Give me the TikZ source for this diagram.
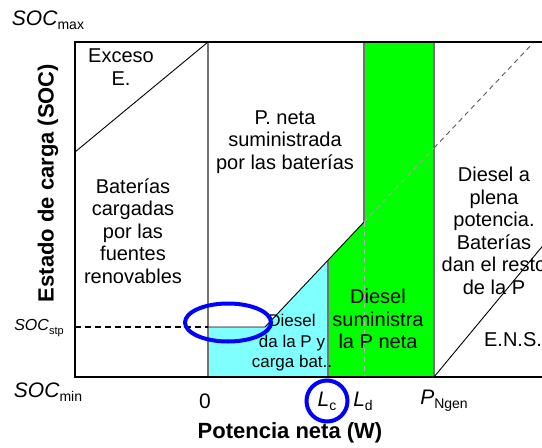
\documentclass[tikz,border=0pt]{standalone}
\usepackage{fontspec}
\setmainfont{Liberation Sans}
\usepackage{xcolor}
\usepackage{tikz}
\definecolor{chargecyan}{RGB}{128,255,255}
\definecolor{dieselgreen}{RGB}{0,255,0}
\newcommand{\fs}[2]{\fontsize{#1}{#2}\selectfont}
\newcommand{\lo}[2]{\raisebox{-0.2em}{\fs{#1}{#1}#2}}

\begin{document}
\begin{tikzpicture}[x=1pt,y=-1pt,
    region/.style={align=center,font=\fs{20}{22.5}},
    smallregion/.style={align=center,font=\fs{17}{20.5}},
    axislabel/.style={font=\bfseries\fs{22}{22}},
    level/.style={font=\fs{21}{21}},
    divider/.style={black!55,line width=1.2pt},
    slope/.style={black,line width=0.9pt},
    ring/.style={blue,line width=4pt}]
    \useasboundingbox (0,0) rectangle (542,448);
    \fill[chargecyan] (208,377) -- (208,327) -- (265,327) -- (328,261) -- (328,377) -- cycle;
    \fill[dieselgreen] (328,377) -- (328,261) -- (364,222) -- (364,42) -- (434,42) -- (434,377) -- cycle;
    \draw[divider] (208,42) -- (208,377);
    \draw[divider] (328,261) -- (328,377);
    \draw[divider] (364,42) -- (364,222);
    \draw[divider] (434,42) -- (434,377);
    \draw[slope] (75,152) -- (208,42);
    \draw[slope] (208,327) -- (265,327) -- (364,222);
    \draw[slope,black!35,dash pattern=on 5pt off 4pt] (364,222) -- (434,148);
    \draw[slope,black!65,dash pattern=on 5pt off 4pt] (434,148) -- (534,42);
    \draw[slope,black!30,dash pattern=on 5pt off 4pt] (364,222) -- (364,377);
    \draw[slope] (434,377) -- (560,225);
    \draw[line width=1.2pt,dash pattern=on 6pt off 4pt] (75,327) -- (208,327);
    \draw[line width=2pt] (548,42) -- (75,42) -- (75,377) -- (548,377);
    \node[level] (socmax) at (48,20) {\textit{SOC}\lo{14}{max}};
    \node[level] (socmin) at (48,392) {\textit{SOC}\lo{14}{min}};
    \node[font=\fs{16}{16}] (socstp) at (39,328) {\textit{SOC}\lo{11}{stp}};
    \node[level] (zero) at (205,401) {0};
    \node[level] (lc) at (327,401) {\textit{L}\lo{14}{c}};
    \node[level] (ld) at (363,401) {\textit{L}\lo{14}{d}};
    \node[level] (pngen) at (444,401) {\textit{P}\lo{14}{Ngen}};
    \node[axislabel] (xlab) at (290,433) {Potencia neta (W)};
    \node[axislabel,rotate=90] (ylab) at (48,183) {Estado de carga (SOC)};
    \node[region] (exceso) at (121,67) {Exceso\\E.};
    \node[region] (renov) at (133,231) {Baterías\\cargadas\\por las\\fuentes\\renovables};
    \node[region] (pbat) at (285,142) {P. neta\\suministrada\\por las baterías};
    \node[region] (plena) at (494,231) {Diesel a\\plena\\potencia.\\Baterías\\dan el resto\\de la P};
    \node[region] (ens) at (513,340) {E.N.S.};
    \node[region] (dieselneta) at (378,319) {Diesel\\suministra\\la P neta};
    \node[smallregion] (dieselcarga) at (292,343) {Diesel\\da la P y\\carga bat..};
    \draw[ring] (228,322.5) ellipse (43 and 19);
    \draw[ring] (lc) circle (20.5);
\end{tikzpicture}
\end{document}
